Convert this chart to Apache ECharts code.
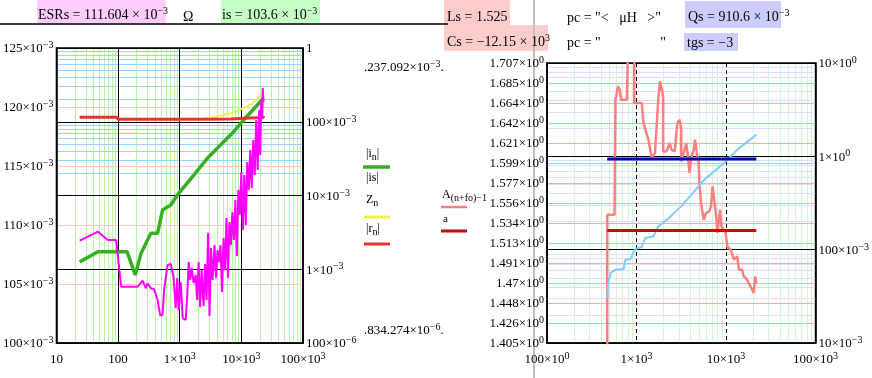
<!DOCTYPE html>
<html>
<head>
<meta charset="utf-8">
<script src="https://cdn.jsdelivr.net/npm/echarts@6/dist/echarts.min.js"></script>
<style>
  html, body { margin: 0; padding: 0; background: #fff; }
  #container { width: 872px; height: 378px; }
</style>
</head>
<body>
<div id="container"></div>
<script>
"use strict";

// ---- left plot (frequency, log) ----
const grnF = [23.8, 47.1, 139.7, 190, 235, 340, 437, 526, 716, 918, 1702, 2800, 7510, 10900, 22900];
const grnV = [1.26e-3, 1.73e-3, 1.73e-3, 8.36e-4, 1.64e-3, 3.07e-3, 3.07e-3, 6.36e-3, 7.43e-3, 1.02e-2, 1.90e-2, 3.19e-2, 7.33e-2, 0.1057, 0.208];

const yelF = [23.8, 96, 100, 2180, 4000, 7510, 13960, 22900];
const yelV = [0.115, 0.115, 0.108, 0.109, 0.117, 0.134, 0.169, 0.243];

const redF = [23.8, 96, 100, 2180, 6650, 13960, 22650, 22900];
const redV = [0.115, 0.115, 0.108, 0.108, 0.109, 0.112, 0.114, 0.12];

const magF = [23.8, 47.1, 68.2, 92.9, 105, 112, 208, 250, 283, 301, 340, 385, 437, 481, 526, 558, 634, 716, 791,
  861, 912, 964, 1038, 1117, 1250, 1321, 1397, 1476, 1562, 1683, 1811, 1915, 2024, 2141, 2264, 2439, 2578, 2725, 2881,
  3046, 3221, 3405, 3670, 3880, 4102, 4337, 4585, 4847, 5124, 5417, 5727, 6054, 6401, 6767, 7154, 7563, 7995, 8452, 8936,
  9447, 9987, 10560, 11160, 11800, 12470, 13190, 13940, 14740, 15580, 16470, 17410, 18410, 19460, 20240, 21020, 21830, 22250, 22900];
const magV = [2.44e-3, 3.23e-3, 2.49e-3, 2.49e-3, 9.77e-4, 5.8e-4, 5.8e-4, 7.0e-4, 5.52e-4, 6.45e-4, 5.52e-4, 5.35e-4, 3.83e-4, 2.4e-4, 2.4e-4, 5.24e-4, 1.14e-3, 1.18e-3, 7.93e-4,
  2.98e-4, 7.6e-4, 2.8e-4, 6.72e-4, 2.18e-4, 2.05e-4, 4.21e-4, 1.25e-3, 7.15e-4, 1.04e-3, 6.51e-4, 8.36e-4, 3.83e-4, 1.25e-3, 3.08e-4, 9.77e-4, 3.18e-4, 1.18e-3, 3.83e-4, 3.1e-3,
  2.32e-4, 1.94e-3, 7.15e-4, 2.13e-3, 7.6e-4, 1.82e-3, 1.25e-3, 2.13e-3, 4.92e-4, 2.65e-3, 9.77e-4, 4.95e-3, 7.6e-4, 4.37e-3, 2.13e-3, 5.97e-3, 2.49e-3, 8.69e-3, 1.51e-3, 1.19e-2,
  5.44e-3, 2.08e-2, 3.4e-3, 1.9e-2, 3.98e-3, 2.85e-2, 1.19e-2, 4.14e-2, 1.26e-2, 5.66e-2, 1.9e-2, 0.1057, 2.22e-2, 0.144, 3.54e-2, 0.197, 0.112, 0.287, 0.185];

// ---- right plot ----
const salF = [471, 471, 568, 582, 622, 650, 672, 782, 802, 944, 944, 1146, 1196, 1358, 1477, 1610, 1750, 1828, 1903, 1986,
  1986, 2160, 2353, 2453, 2675, 2858, 3036, 3162, 3162, 3447, 3591, 3750, 3917, 4074, 4365, 4508, 4742, 4920, 5047, 5260,
  5623, 5970, 6500, 6776, 7079, 7380, 7690, 8035, 8590, 8890, 9350, 9910, 10350, 11250, 12270, 13340, 13930, 15140, 15810, 17200,
  18710, 20400, 21250, 21800];
const salV = [0.005, 0.237, 0.237, 4.04, 5.61, 5.18, 4.04, 4.04, 14, 14, 3.73, 3.73, 2.28, 1.51, 0.96, 1.09, 4.04, 6.35, 6.35, 4.39,
  1.13, 1.13, 1.39, 1.18, 1.13, 2.28, 2.47, 1.93, 0.883, 1.18, 1.39, 1.0, 0.663, 0.96, 1.18, 1.51, 1.04, 0.96, 0.518, 0.316,
  0.209, 0.247, 0.257, 0.291, 0.476, 0.476, 0.247, 0.151, 0.268, 0.177, 0.164, 0.151, 0.108, 0.1, 0.078, 0.0847, 0.061, 0.061, 0.0517, 0.0477,
  0.0404, 0.0343, 0.0517, 0.044];

const lbF = [471, 483, 513, 582, 719, 751, 853, 968, 1146, 1248, 1541, 1750, 2255, 3162, 5730, 9530, 13340, 21800];
const lbV = [0.0303, 0.044, 0.0562, 0.061, 0.062, 0.078, 0.0794, 0.1017, 0.107, 0.1334, 0.1387, 0.177, 0.215, 0.291, 0.562, 0.849, 1.18, 1.70];

const hF = [471, 21800];
const blueV = [0.936, 0.936];
const aV = [0.160, 0.160];

// tick labels ("^" marks the exponent)
const lxTicks = ['10', '100', '1×10^3', '10×10^3', '100×10^3'];
const lyTicks = ['100×10^−3', '105×10^−3', '110×10^−3', '115×10^−3', '120×10^−3', '125×10^−3'];
const lrTicks = ['100×10^−6', '1×10^−3', '10×10^−3', '100×10^−3', '1'];
const rxTicks = ['100×10^0', '1×10^3', '10×10^3', '100×10^3'];
const ryTicks = ['1.405', '1.426', '1.448', '1.47', '1.491', '1.513', '1.534', '1.556', '1.577', '1.599', '1.621', '1.642', '1.664', '1.685', '1.707'];
const rrTicks = ['10×10^−3', '100×10^−3', '1×10^0', '10×10^0'];

const SERIF = '"Liberation Serif", "Times New Roman", serif';

function richSet(size) {
  return {
    m: { fontSize: size, fontFamily: SERIF, color: '#000', lineHeight: size + 2, verticalAlign: 'bottom' },
    s: { fontSize: 10, fontFamily: SERIF, color: '#000', lineHeight: 10, padding: [0, 0, size - 3, 0], verticalAlign: 'top' },
    b: { fontSize: size, fontFamily: SERIF, color: '#000', lineHeight: size + 2, verticalAlign: 'top' },
    sb: { fontSize: 10, fontFamily: SERIF, color: '#000', lineHeight: 10, padding: [8, 0, 0, 0], verticalAlign: 'bottom' },
  };
}

// 'a^b' -> a with superscript b
function fmt(t) {
  const p = t.split('^');
  return p.length > 1 ? '{m|' + p[0] + '}{s|' + p[1] + '}' : '{m|' + p[0] + '}';
}

const zip = (a, b) => a.map((v, i) => [v, b[i]]);
const lg = v => Math.round(Math.log10(v));

function minorVals(from, to) {
  const out = [];
  for (let e = from; e < to; e++) {
    for (let k = 2; k <= 9; k++) out.push(k * Math.pow(10, e));
  }
  return out;
}

function gridLines(xi, yi, dim, vals, color) {
  return {
    type: 'line', xAxisIndex: xi, yAxisIndex: yi, data: [], silent: true, z: 1,
    markLine: {
      z: 1, silent: true, symbol: 'none', animation: false, label: { show: false },
      lineStyle: { color: color, width: 1, type: 'solid' },
      data: vals.map(v => ({ [dim + 'Axis']: v })),
    },
  };
}

function trace(xi, yi, f, v, color, width) {
  return {
    type: 'line', xAxisIndex: xi, yAxisIndex: yi, data: zip(f, v), z: 3,
    symbol: 'none', showSymbol: false, silent: true,
    lineStyle: { color: color, width: width },
  };
}

function labels(margin, pick) {
  return {
    margin: margin, fontFamily: SERIF, fontSize: 13, color: '#000', rich: richSet(13),
    showMinLabel: true, showMaxLabel: true,
    formatter: v => fmt(pick(v)),
  };
}

// header boxes and in-between texts
const graphics = [];
function box(x, y, w, h, color) {
  graphics.push({ type: 'rect', shape: { x: x, y: y, width: w, height: h }, style: { fill: color }, z: 0 });
}
function txt(x, y, text, size) {
  size = size || 14;
  graphics.push({
    type: 'text', x: x, y: y, z: 2,
    style: { text: text, fontSize: size, fontFamily: SERIF, fill: '#000', verticalAlign: 'middle', rich: richSet(size) },
  });
}
function seg(x1, y1, x2, y2, color, w) {
  graphics.push({ type: 'line', shape: { x1: x1, y1: y1, x2: x2, y2: y2 }, style: { stroke: color, lineWidth: w }, z: 1 });
}

box(37, 0, 129, 24, '#ffccff');
txt(38, 14, fmt('ESRs = 111.604 × 10^−3'));
txt(183, 17, 'Ω');
box(221, 0, 99, 24, '#c4ffc4');
txt(222, 14, fmt('is = 103.6 × 10^−3'));
seg(0, 24, 448, 24, '#000', 1.5);
box(444, 0, 66, 25, '#ffcccc');
txt(447, 17, 'Ls = 1.525');
box(444, 25, 104, 26, '#ffcccc');
txt(447, 41, fmt('Cs = −12.15 × 10^3'));
txt(567, 18, 'pc = "<   μH   >"');
txt(567, 43, 'pc = "                 "');
box(685, 1, 96, 27, '#ccccff');
txt(688, 16, fmt('Qs = 910.6 × 10^−3'));
box(684, 33, 54, 18, '#ccccff');
txt(687, 43, 'tgs = −3');
seg(534, 0, 534, 378, '#c0c0c0', 2);

txt(364, 67, fmt('.237.092×10^−3') + '{m|.}', 13);
txt(364, 330, fmt('.834.274×10^−6') + '{m|.}', 13);

// legend blocks
txt(366, 155, '{b||i}{sb|n}{b||}', 12);
seg(363, 167, 390, 167, '#36b020', 3.5);
txt(366, 178, '|is|', 12);
txt(366, 201, '{b|Z}{sb|n}', 12);
seg(364, 217, 390, 217, '#f5f050', 3);
txt(366, 230, '{b||r}{sb|n}{b||}', 12);
seg(364, 244, 390, 244, '#f03030', 3);
txt(442, 196, '{b|A}{sb|(n+fo)−1}', 12);
seg(441, 207, 467, 207, '#ff7f7f', 2.5);
txt(443, 219, 'a', 11);
seg(441, 231, 467, 231, '#d00000', 3);

let myChart = echarts.init(document.getElementById('container'));

let option = {
  animation: false,
  backgroundColor: '#fff',
  graphic: graphics,
  grid: [
    { left: 55, top: 48, width: 248, height: 295, show: true, borderColor: '#000', borderWidth: 1.5, backgroundColor: 'transparent' },
    { left: 547, top: 63, width: 272, height: 280, show: true, borderColor: '#000', borderWidth: 1.5, backgroundColor: 'transparent' },
  ],
  xAxis: [
    {
      type: 'log', gridIndex: 0, min: 10, max: 100000, logBase: 10, z: 2,
      axisLine: { onZero: false, lineStyle: { color: '#000', width: 1.5 } },
      axisTick: { show: false },
      axisLabel: labels(8, v => lxTicks[lg(v) - 1]),
      splitLine: { show: true, lineStyle: { color: '#000', width: 1 } },
    },
    {
      type: 'log', gridIndex: 1, min: 100, max: 100000, logBase: 10, z: 2,
      axisLine: { onZero: false, lineStyle: { color: '#000', width: 1.5 } },
      axisTick: { show: false },
      axisLabel: labels(8, v => rxTicks[lg(v) - 2]),
      splitLine: { show: true, lineStyle: { color: '#000', width: 1, type: [4, 3] } },
    },
  ],
  yAxis: [
    {
      type: 'value', gridIndex: 0, position: 'left', min: 0.1, max: 0.125, interval: 0.005, z: 2,
      axisLine: { show: true, lineStyle: { color: '#000', width: 1.5 } },
      axisTick: { show: false },
      axisLabel: labels(3, v => lyTicks[Math.round((v - 0.1) / 0.005)]),
      splitLine: { show: true, lineStyle: { color: '#ffc4c4', width: 1 } },
    },
    {
      type: 'log', gridIndex: 0, position: 'right', min: 1e-4, max: 1, logBase: 10, z: 2,
      axisLine: { show: true, lineStyle: { color: '#000', width: 1.5 } },
      axisTick: { show: false },
      axisLabel: labels(3, v => lrTicks[lg(v) + 4]),
      splitLine: { show: true, lineStyle: { color: '#000', width: 1 } },
    },
    {
      type: 'value', gridIndex: 1, position: 'left', min: 0, max: 14, interval: 1, z: 2,
      axisLine: { show: true, lineStyle: { color: '#000', width: 1.5 } },
      axisTick: { show: false },
      axisLabel: labels(3, v => ryTicks[Math.round(v)] + '×10^0'),
      splitLine: { show: true, lineStyle: { color: '#ffa8a8', width: 1 } },
    },
    {
      type: 'log', gridIndex: 1, position: 'right', min: 0.01, max: 10, logBase: 10, z: 2,
      axisLine: { show: true, lineStyle: { color: '#000', width: 1.5 } },
      axisTick: { show: false },
      axisLabel: labels(3, v => rrTicks[lg(v) + 2]),
      splitLine: { show: true, lineStyle: { color: '#000', width: 1 } },
    },
  ],
  series: [
    gridLines(0, 1, 'x', minorVals(1, 5), '#b4f5a8'),
    gridLines(0, 1, 'y', minorVals(-4, 0), '#9dcfff'),
    gridLines(1, 3, 'x', minorVals(2, 5), '#d4f5d4'),
    gridLines(1, 3, 'y', minorVals(-2, 1), '#dcdcff'),

    trace(0, 1, grnF, grnV, '#36b020', 3.5),
    trace(0, 1, yelF, yelV, '#f5f050', 2),
    trace(0, 1, redF, redV, '#f03030', 3),
    trace(0, 1, magF, magV, '#ff00ff', 2),

    trace(1, 3, salF, salV, '#ff7f7f', 2.5),
    trace(1, 3, lbF, lbV, '#7ccfff', 2),
    trace(1, 3, hF, blueV, '#0000c0', 3),
    trace(1, 3, hF, aV, '#d00000', 3),
  ],
};

myChart.setOption(option);
</script>
</body>
</html>
